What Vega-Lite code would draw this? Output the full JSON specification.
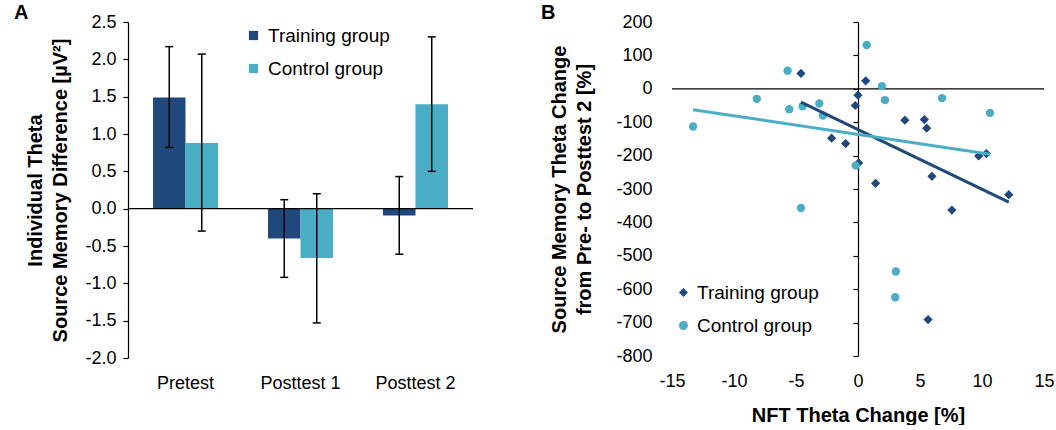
{
  "$schema": "https://vega.github.io/schema/vega-lite/v6.json",
  "padding": {"left": 13, "top": 3, "right": 2, "bottom": 0},
  "spacing": 67,
  "config": {
    "font": "Liberation Sans",
    "view": {"stroke": null},
    "axis": {"labelFont": "Liberation Sans", "titleFont": "Liberation Sans", "labelColor": "#000", "titleColor": "#000", "domainColor": "#000", "tickColor": "#000", "grid": false, "labelFontSize": 18, "titleFontSize": 20, "titleFontWeight": "bold", "titleLineHeight": 25, "domainWidth": 1.2, "tickWidth": 1.2, "labelOverlap": false, "labelFlush": false},
    "legend": {"labelFont": "Liberation Sans", "labelFontSize": 19, "labelColor": "#000", "title": null},
    "title": {"font": "Liberation Sans", "fontSize": 20, "fontWeight": "bold", "anchor": "start", "frame": "bounds", "color": "#000", "offset": -10, "baseline": "alphabetic"}
  },
  "resolve": {"scale": {"color": "independent", "shape": "independent"}},
  "hconcat": [
    {
      "width": 345,
      "height": 336,
      "title": {"text": "A", "dx": -12},
      "data": {"values": [
        {"phase": "Pretest", "group": "Training group", "mean": 1.49, "lo": 0.82, "hi": 2.17},
        {"phase": "Pretest", "group": "Control group", "mean": 0.88, "lo": -0.30, "hi": 2.07},
        {"phase": "Posttest 1", "group": "Training group", "mean": -0.40, "lo": -0.92, "hi": 0.12},
        {"phase": "Posttest 1", "group": "Control group", "mean": -0.66, "lo": -1.53, "hi": 0.20},
        {"phase": "Posttest 2", "group": "Training group", "mean": -0.09, "lo": -0.61, "hi": 0.43},
        {"phase": "Posttest 2", "group": "Control group", "mean": 1.40, "lo": 0.50, "hi": 2.30}
      ]},
      "layer": [
        {
          "mark": {"type": "bar"},
          "encoding": {
            "x": {"field": "phase", "type": "nominal", "sort": ["Pretest", "Posttest 1", "Posttest 2"], "scale": {"paddingInner": 0.435, "paddingOuter": 0.2175}, "axis": {"title": null, "labelAngle": 0, "domain": false, "ticks": false, "labelFontSize": 18, "labelPadding": 16}},
            "xOffset": {"field": "group", "type": "nominal", "sort": ["Training group", "Control group"]},
            "y": {"field": "mean", "type": "quantitative", "scale": {"domain": [-2, 2.5], "nice": false, "zero": false}, "axis": {"values": [-2, -1.5, -1, -0.5, 0, 0.5, 1, 1.5, 2, 2.5], "tickCount": 30, "labelOverlap": false, "labelExpr": "replace(format(datum.value, '.1f'), '\u2212', '-')", "title": ["Individual Theta", "Source Memory Difference [µV²]"], "tickSize": 5, "labelPadding": 7, "titlePadding": 14}},
            "color": {"field": "group", "type": "nominal", "scale": {"domain": ["Training group", "Control group"], "range": ["#1F497D", "#4BACC6"]}, "legend": {"orient": "none", "legendX": 116, "legendY": 4, "symbolType": "square", "symbolSize": 85, "symbolOpacity": 1, "labelOffset": 5, "rowPadding": 13}}
          }
        },
        {
          "data": {"values": [{}]},
          "mark": {"type": "rule", "color": "#000", "strokeWidth": 1.2},
          "encoding": {"y": {"datum": 0}}
        },
        {
          "mark": {"type": "rule", "color": "#000", "strokeWidth": 1.5},
          "encoding": {
            "x": {"field": "phase", "type": "nominal", "sort": ["Pretest", "Posttest 1", "Posttest 2"]},
            "xOffset": {"field": "group", "type": "nominal", "sort": ["Training group", "Control group"]},
            "y": {"field": "lo", "type": "quantitative"},
            "y2": {"field": "hi"}
          }
        },
        {
          "mark": {"type": "tick", "color": "#000", "thickness": 1.5, "size": 8, "opacity": 1},
          "encoding": {
            "x": {"field": "phase", "type": "nominal", "sort": ["Pretest", "Posttest 1", "Posttest 2"]},
            "xOffset": {"field": "group", "type": "nominal", "sort": ["Training group", "Control group"]},
            "y": {"field": "lo", "type": "quantitative"}
          }
        },
        {
          "mark": {"type": "tick", "color": "#000", "thickness": 1.5, "size": 8, "opacity": 1},
          "encoding": {
            "x": {"field": "phase", "type": "nominal", "sort": ["Pretest", "Posttest 1", "Posttest 2"]},
            "xOffset": {"field": "group", "type": "nominal", "sort": ["Training group", "Control group"]},
            "y": {"field": "hi", "type": "quantitative"}
          }
        }
      ]
    },
    {
      "width": 372,
      "height": 334,
      "title": {"text": "B", "dx": -8},
      "data": {"values": [
        {"group": "Training group", "x": -4.6, "y": 46},
        {"group": "Training group", "x": 0.62, "y": 24},
        {"group": "Training group", "x": 0.0, "y": -19},
        {"group": "Training group", "x": -0.22, "y": -50},
        {"group": "Training group", "x": 3.78, "y": -94},
        {"group": "Training group", "x": 5.35, "y": -92},
        {"group": "Training group", "x": 5.54, "y": -118},
        {"group": "Training group", "x": -2.13, "y": -148},
        {"group": "Training group", "x": -1.0, "y": -164},
        {"group": "Training group", "x": 0.05, "y": -222},
        {"group": "Training group", "x": 1.42, "y": -283},
        {"group": "Training group", "x": 5.96, "y": -262},
        {"group": "Training group", "x": 9.73, "y": -201},
        {"group": "Training group", "x": 10.35, "y": -194},
        {"group": "Training group", "x": 12.16, "y": -317},
        {"group": "Training group", "x": 7.57, "y": -363},
        {"group": "Training group", "x": 5.65, "y": -691},
        {"group": "Control group", "x": 0.7, "y": 131},
        {"group": "Control group", "x": -5.68, "y": 54},
        {"group": "Control group", "x": 1.93, "y": 8},
        {"group": "Control group", "x": -8.16, "y": -30},
        {"group": "Control group", "x": -5.54, "y": -61},
        {"group": "Control group", "x": -4.47, "y": -52},
        {"group": "Control group", "x": -3.12, "y": -44},
        {"group": "Control group", "x": -2.83, "y": -80},
        {"group": "Control group", "x": 2.18, "y": -34},
        {"group": "Control group", "x": 6.78, "y": -28},
        {"group": "Control group", "x": 10.65, "y": -72},
        {"group": "Control group", "x": -13.3, "y": -113},
        {"group": "Control group", "x": -0.19, "y": -230},
        {"group": "Control group", "x": -4.6, "y": -357},
        {"group": "Control group", "x": 3.05, "y": -547},
        {"group": "Control group", "x": 3.0, "y": -624}
      ]},
      "layer": [
        {
          "data": {"values": [{}]},
          "mark": {"type": "rule", "color": "#000", "strokeWidth": 1.2},
          "encoding": {"y": {"datum": 0}}
        },
        {
          "mark": {"type": "point", "filled": true, "opacity": 1, "strokeWidth": 0},
          "encoding": {
            "x": {"field": "x", "type": "quantitative", "scale": {"domain": [-15, 15], "nice": false}, "axis": {"values": [-15, -10, -5, 0, 5, 10, 15], "tickCount": 30, "labelOverlap": false, "labelExpr": "replace(datum.label, '\u2212', '-')", "domain": false, "ticks": false, "labelPadding": 16, "title": "NFT Theta Change [%]", "titlePadding": 15}},
            "y": {"field": "y", "type": "quantitative", "scale": {"domain": [-800, 200], "nice": false}, "axis": {"values": [-800, -700, -600, -500, -400, -300, -200, -100, 0, 100, 200], "tickCount": 30, "labelOverlap": false, "labelExpr": "replace(datum.label, '\u2212', '-')", "offset": -186, "tickSize": 5, "labelPadding": 201, "title": ["Source Memory Theta Change", "from Pre- to Posttest 2 [%]"], "titlePadding": 64}},
            "color": {"field": "group", "type": "nominal", "scale": {"domain": ["Training group", "Control group"], "range": ["#1F497D", "#4BACC6"]}, "legend": {"orient": "none", "legendX": 2, "legendY": 261, "symbolSize": 80, "symbolOpacity": 1, "symbolStrokeWidth": 0, "labelOffset": 4, "rowPadding": 13}},
            "shape": {"field": "group", "type": "nominal", "scale": {"domain": ["Training group", "Control group"], "range": ["diamond", "circle"]}},
            "size": {"field": "group", "type": "nominal", "scale": {"domain": ["Training group", "Control group"], "range": [85, 70]}, "legend": null}
          }
        },
        {
          "transform": [{"filter": "datum.group === 'Training group'"}, {"regression": "y", "on": "x"}],
          "mark": {"type": "line", "color": "#1F497D", "strokeWidth": 3},
          "encoding": {"x": {"field": "x", "type": "quantitative"}, "y": {"field": "y", "type": "quantitative"}}
        },
        {
          "transform": [{"filter": "datum.group === 'Control group'"}, {"regression": "y", "on": "x"}],
          "mark": {"type": "line", "color": "#4BACC6", "strokeWidth": 3},
          "encoding": {"x": {"field": "x", "type": "quantitative"}, "y": {"field": "y", "type": "quantitative"}}
        }
      ]
    }
  ]
}
